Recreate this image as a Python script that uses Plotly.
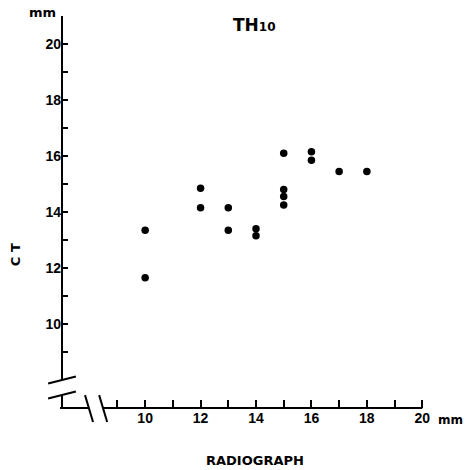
import plotly.graph_objects as go

# ---- data ----
radiograph_mm = [10, 10, 12, 12, 13, 13, 14, 14, 15, 15, 15, 15, 16, 16, 17, 18]
ct_mm = [13.35, 11.65, 14.85, 14.15, 14.15, 13.35, 13.4, 13.15,
         16.1, 14.8, 14.55, 14.25, 16.15, 15.85, 15.45, 15.45]

x_tick_vals = list(range(9, 21))
x_tick_text = ["" if v % 2 else str(v) for v in x_tick_vals]
y_tick_vals = list(range(9, 22))
y_tick_text = ["" if (v % 2 or v > 20) else str(v) for v in y_tick_vals]

X0, X1 = 7, 21
Y0, Y1 = 7, 21

FONT = "Liberation Sans"
LFONT = "DejaVu Sans"


def px(v):
    return (v - X0) / (X1 - X0)


def py(v):
    return (v - Y0) / (Y1 - Y0)


def seg(x0, y0, x1, y1, w=2):
    return dict(type="line", xref="paper", yref="paper",
                x0=px(x0), y0=py(y0), x1=px(x1), y1=py(y1),
                line=dict(color="black", width=w), layer="above")


fig = go.Figure()
fig.add_trace(go.Scatter(
    x=radiograph_mm, y=ct_mm, mode="markers",
    marker=dict(color="black", size=7.5, line=dict(width=0)),
    cliponaxis=False, showlegend=False))

shapes = [
    seg(7.0, 8.0, 7.0, 21.0),          # y axis upper part
    seg(6.5, 7.875, 7.5, 8.125),       # y break slash 1
    seg(6.5, 7.34, 7.5, 7.59),         # y break slash 2
    seg(7.0, 7.46, 7.0, 7.0),          # y axis short end
    seg(6.93, 7.0, 7.97, 7.0),         # x axis short start
    seg(7.83, 7.46, 8.12, 6.5),        # x break slash 1
    seg(8.34, 7.46, 8.63, 6.5),        # x break slash 2
    seg(8.48, 7.0, 20.0, 7.0),         # x axis main part
]

bold = dict(family=FONT, size=14, color="black", weight="bold")

fig.update_layout(
    width=467, height=470,
    margin=dict(l=62, r=17, t=16, b=62),
    paper_bgcolor="white", plot_bgcolor="white",
    shapes=shapes,
    xaxis=dict(range=[X0, X1], showgrid=False, zeroline=False, showline=False,
               tickmode="array", tickvals=x_tick_vals, ticktext=x_tick_text,
               ticks="inside", ticklen=8, tickwidth=1.5, tickcolor="black",
               tickfont=bold),
    yaxis=dict(range=[Y0, Y1], showgrid=False, zeroline=False, showline=False,
               tickmode="array", tickvals=y_tick_vals, ticktext=y_tick_text,
               ticks="inside", ticklen=6, tickwidth=1.5, tickcolor="black",
               tickfont=bold),
    annotations=[
        dict(text="<b>TH</b><span style='font-size:12px'><b>10</b></span>",
             xref="paper", yref="paper", x=0.495, y=0.977,
             xanchor="center", yanchor="middle", showarrow=False,
             font=dict(family=LFONT, size=17, color="black")),
        dict(text="<b>mm</b>", xref="paper", yref="paper", x=-0.049, y=1.008,
             xanchor="center", yanchor="middle", showarrow=False,
             font=dict(family=LFONT, size=13, color="black")),
        dict(text="<b>mm</b>", xref="paper", yref="paper", x=1.0, y=-0.031,
             xanchor="center", yanchor="middle", showarrow=False,
             font=dict(family=LFONT, size=12, color="black")),
        dict(text="<b>C T</b>", xref="paper", yref="paper", x=-0.121, y=0.39,
             xanchor="center", yanchor="middle", showarrow=False, textangle=-90,
             font=dict(family=LFONT, size=13, color="black")),
        dict(text="<b>RADIOGRAPH</b>", xref="paper", yref="paper", x=0.497, y=-0.133,
             xanchor="center", yanchor="middle", showarrow=False,
             font=dict(family=LFONT, size=13, color="black")),
    ],
)

fig.write_html("out.html", config={"displayModeBar": False},
               post_script="document.body.style.margin='0';document.body.style.overflow='hidden';")
